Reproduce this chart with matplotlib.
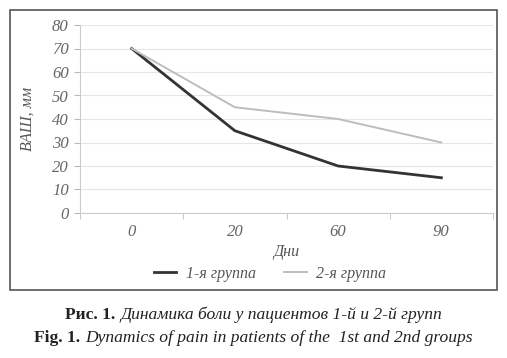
import numpy as np
import matplotlib.pyplot as plt
from matplotlib.patches import Rectangle

plt.rcParams["font.family"] = ["Liberation Serif", "DejaVu Serif"]

days = ["0", "20", "60", "90"]
group1 = [70, 35, 20, 15]
group2 = [70, 45, 40, 30]
labels = ["1-я группа", "2-я группа"]
captions = [("Рис. 1.", "Динамика боли у пациентов 1-й и 2-й групп"),
            ("Fig. 1.", "Dynamics of pain in patients of the  1st and 2nd groups")]

W, H = 507, 358
fig = plt.figure(figsize=(W / 100, H / 100), dpi=100)

def fx(px):
    return px / W

def fy(py):
    return 1 - py / H

# frame around the chart
fig.patches.append(Rectangle((fx(10), fy(290)), fx(497) - fx(10), fy(10) - fy(290),
                             transform=fig.transFigure, fill=False,
                             edgecolor="#555555", linewidth=1.2))

ax = fig.add_axes([fx(80), fy(213), fx(493) - fx(80), fy(25) - fy(213)])
x = np.arange(len(days))
ax.plot(x, group1, color="#333333", linewidth=2.0, label=labels[0])
ax.plot(x, group2, color="#bdbdbd", linewidth=1.4, label=labels[1])

ax.set_xlim(-0.5, len(days) - 0.5)
ax.set_ylim(0, 80)
ax.set_yticks(range(0, 81, 10))
ax.set_xticks(x)
ax.set_xticklabels(days)
ax.set_xticks(np.arange(-0.5, len(days), 1), minor=True)
ax.tick_params(axis="x", which="major", length=0, pad=8)
ax.tick_params(axis="x", which="minor", length=4, color="#bbbbbb")
ax.tick_params(axis="y", length=4, color="#bbbbbb", pad=4)
for lab in ax.get_xticklabels() + ax.get_yticklabels():
    lab.set_fontstyle("italic")
    lab.set_fontsize(12)
    lab.set_color("#666666")

ax.grid(axis="y", color="#e6e6e6", linewidth=0.8)
ax.set_axisbelow(True)
for s in ["top", "right"]:
    ax.spines[s].set_visible(False)
ax.spines["left"].set_color("#cccccc")
ax.spines["bottom"].set_color("#cccccc")

ax.set_xlabel("Дни", fontstyle="italic", fontsize=11.5, color="#555555", labelpad=3)
ax.set_ylabel("ВАШ, мм", fontstyle="italic", fontsize=11.5, color="#555555", labelpad=12)

fig.legend(loc="center", bbox_to_anchor=(fx(270), fy(274)), ncol=2, frameon=False,
           prop={"style": "italic", "size": 11.5}, labelcolor="#555555",
           handlelength=1.4, handletextpad=0.6, columnspacing=1.8)

# caption, each line centred: bold prefix + italic text
renderer = fig.canvas.get_renderer()
for (bold, ital), ypx in zip(captions, [315, 338]):
    tb = fig.text(0, fy(ypx), bold + " ", ha="left", va="center", fontsize=12.6,
                  fontweight="bold", color="#222222")
    ti = fig.text(0, fy(ypx), ital, ha="left", va="center", fontsize=12.6,
                  fontstyle="italic", color="#222222")
    wb = tb.get_window_extent(renderer).width
    wi = ti.get_window_extent(renderer).width
    x0 = W / 2 - (wb + wi) / 2
    tb.set_x(fx(x0))
    ti.set_x(fx(x0 + wb))

fig.savefig("out.png", dpi=100)
